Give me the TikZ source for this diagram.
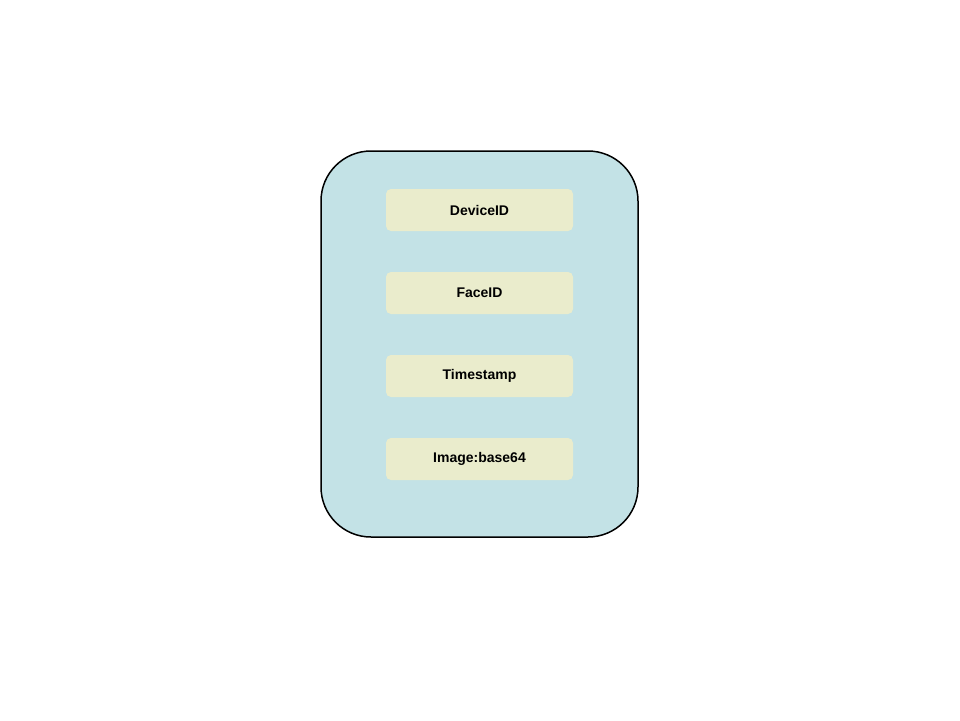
\documentclass[tikz,border=0pt]{standalone}
\usepackage{fontspec}
\setmainfont{Liberation Sans}
\definecolor{outerfill}{HTML}{C3E2E6}
\definecolor{innerfill}{HTML}{EAECCC}
\begin{document}
\begin{tikzpicture}[x=1pt,y=-1pt,
  field/.style={fill=innerfill, draw=none, rounded corners=5pt, minimum width=187pt, minimum height=42pt, inner sep=0pt, font=\fontsize{14}{16}\selectfont\bfseries},
  container/.style={fill=outerfill, draw=black, line width=1.5pt, rounded corners=50pt, minimum width=317pt, minimum height=386pt, inner sep=0pt}]
\useasboundingbox (0,0) rectangle (960,720);
\node[container] (box) at (479.5,344) {};
\node[field] (dev) at (479.5,210) {DeviceID};
\node[field] (face) at (479.5,293) {FaceID};
\node[field] (ts) at (479.5,376) {Timestamp};
\node[field] (img) at (479.5,459) {Image:base64};
\end{tikzpicture}
\end{document}
